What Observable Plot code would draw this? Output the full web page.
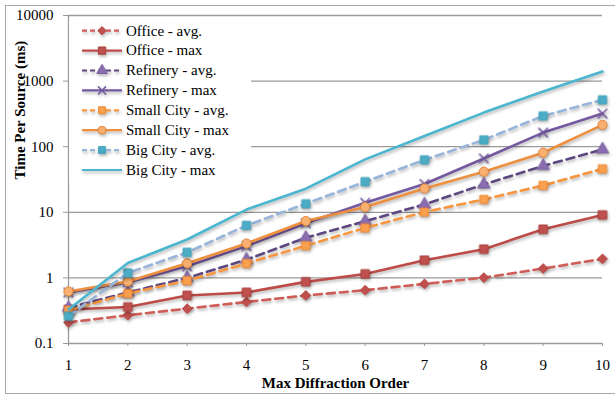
<!DOCTYPE html>
<html>
<head>
<meta charset="utf-8">
<script src="https://cdn.jsdelivr.net/npm/d3@7"></script>
<script src="https://cdn.jsdelivr.net/npm/@observablehq/plot@0.6"></script>
<style>
  body { margin: 0; background: #fff; }
  #wrap { position: relative; width: 615px; height: 397px; overflow: hidden; background: #fff;
          font-family: "Liberation Serif", "Times New Roman", serif; }
  #frame { position: absolute; left: 5px; top: 5px; width: 630px; height: 389px;
           border: 1.5px solid #a8a8a8; box-sizing: border-box; pointer-events: none; }
  #wrap > svg { display: block; }
</style>
</head>
<body>
<div id="wrap"><div id="frame"></div></div>
<script>
// Max diffraction order (x axis)
const orders = [1, 2, 3, 4, 5, 6, 7, 8, 9, 10];
const yTicks = [0.1, 1, 10, 100, 1000, 10000];

// Time per source (ms) for each scene
const officeAvg    = [0.21, 0.27, 0.34, 0.43, 0.54, 0.65, 0.81, 1.01, 1.39, 1.95];
const officeMax    = [0.33, 0.36, 0.54, 0.60, 0.87, 1.15, 1.86, 2.74, 5.5, 9.1];
const refineryAvg  = [0.35, 0.60, 1.0, 1.9, 4.1, 7.3, 13.2, 26.6, 51, 91];
const refineryMax  = [0.60, 0.85, 1.5, 3.05, 6.8, 14, 27, 66, 164, 320];
const smallCityAvg = [0.32, 0.58, 0.91, 1.66, 3.1, 5.8, 10.1, 15.7, 25.7, 46];
const smallCityMax = [0.62, 0.88, 1.67, 3.34, 7.35, 12, 23.1, 41.6, 81, 215];
const bigCityAvg   = [0.26, 1.19, 2.45, 6.3, 13.5, 29.3, 63, 127, 295, 518];
const bigCityMax   = [0.33, 1.69, 3.85, 11, 22.9, 64, 146, 331, 695, 1400];

const seriesNames = ["Office - avg.", "Office - max", "Refinery - avg.", "Refinery - max",
                     "Small City - avg.", "Small City - max", "Big City - avg.", "Big City - max"];
const seriesValues = [officeAvg, officeMax, refineryAvg, refineryMax,
                      smallCityAvg, smallCityMax, bigCityAvg, bigCityMax];

// Line and marker appearance per series
const styles = [
  {line: "#cf5c57", dash: "8,5", symbol: "diamond2", fill: "#c0504d", stroke: "#b84744", r: 4.4},
  {line: "#bd4b48", dash: null,  symbol: "square",   fill: "#c0504d", stroke: "#a8403d", r: 4.8},
  {line: "#5e4780", dash: "8,5", symbol: "triangle", fill: "#8a6db0", stroke: "#7a5fa0", r: 4.6},
  {line: "#7559a0", dash: null,  symbol: "times",    fill: "none",    stroke: "#7559a0", r: 4.4},
  {line: "#f7963f", dash: "8,5", symbol: "square",   fill: "#f9a050", stroke: "#f08a35", r: 4.6},
  {line: "#ee8f3e", dash: null,  symbol: "circle",   fill: "#f8b070", stroke: "#e5843a", r: 4.6},
  {line: "#97b5da", dash: "8,5", symbol: "square",   fill: "#4bacc6", stroke: "#45a2bb", r: 4.6},
  {line: "#4bb6cf", dash: null,  symbol: null,       fill: null,      stroke: null,      r: 0}
];

const rows = seriesNames.flatMap((name, i) =>
  orders.map((order, j) => ({series: name, order, time: seriesValues[i][j]})));

const seriesMarks = seriesNames.flatMap((name, i) => {
  const s = styles[i];
  const data = rows.filter(d => d.series === name);
  const marks = [Plot.line(data, {x: "order", y: "time", stroke: s.line, strokeWidth: 2.6,
                                   strokeDasharray: s.dash ?? undefined, strokeLinejoin: "round"})];
  if (s.symbol) marks.push(Plot.dot(data, {x: "order", y: "time", symbol: s.symbol, r: s.r,
                                            fill: s.fill, stroke: s.stroke, strokeWidth: s.symbol === "times" ? 1.6 : 1}));
  return marks;
});

const fmt = d => String(d);

const chart = Plot.plot({
  width: 615,
  height: 397,
  marginLeft: 68,
  marginRight: 13,
  marginTop: 15,
  marginBottom: 54,
  style: {fontFamily: "'Liberation Serif', 'Times New Roman', serif", fontSize: "15px",
          background: "transparent", color: "#000", overflow: "visible"},
  x: {domain: [1, 10]},
  y: {type: "log", domain: [0.1, 10000]},
  marks: [
    Plot.gridY(yTicks, {stroke: "#9a9a9a", strokeOpacity: 1, strokeWidth: 1.3}),
    Plot.ruleX([1], {stroke: "#9a9a9a", strokeWidth: 1.3}),
    Plot.axisY(yTicks, {tickSize: 5, tickPadding: 10, stroke: "#9a9a9a", fill: "#000",
                        tickFormat: fmt, label: null}),
    Plot.axisX(orders, {tickSize: 3, tickPadding: 13, stroke: "#9a9a9a", fill: "#000",
                        tickFormat: fmt, label: null}),
    ...seriesMarks,
    Plot.text(["Time Per Source (ms)"], {text: d => d, frameAnchor: "left", dx: -48, rotate: -90,
                                          fontWeight: "bold", fontSize: 15}),
    Plot.text(["Max Diffraction Order"], {text: d => d, frameAnchor: "bottom", dy: 44,
                                           fontWeight: "bold", fontSize: 15})
  ]
});

const shadow = "drop-shadow(1.5px 2px 1.5px rgba(0,0,0,0.28))";
d3.select(chart).selectAll('g[aria-label="line"], g[aria-label="dot"]').style("filter", shadow);
document.getElementById("wrap").prepend(chart);

// Legend box over the top-left of the plot area
const legend = d3.select("#wrap").append("svg")
  .attr("width", 182).attr("height", 164)
  .style("position", "absolute").style("left", "69px").style("top", "18px")
  .style("font-family", "'Liberation Serif', 'Times New Roman', serif")
  .style("font-size", "15px");
legend.append("rect").attr("width", 182).attr("height", 164).attr("fill", "#fff");

const symbolTypes = {diamond2: d3.symbolDiamond2, square: d3.symbolSquare, triangle: d3.symbolTriangle,
                     times: d3.symbolTimes, circle: d3.symbolCircle};

seriesNames.forEach((name, i) => {
  const s = styles[i];
  const cy = 12.7 + 19.9 * i;
  const g = legend.append("g");
  const sample = g.append("g").style("filter", shadow);
  sample.append("line").attr("x1", 13).attr("x2", 53).attr("y1", cy).attr("y2", cy)
    .attr("stroke", s.line).attr("stroke-width", 2.2)
    .attr("stroke-dasharray", s.dash ? "5,3" : null);
  if (s.symbol) {
    const rr = s.r * 0.85;
    sample.append("path")
      .attr("d", d3.symbol(symbolTypes[s.symbol], Math.PI * rr * rr)())
      .attr("transform", `translate(33,${cy})`)
      .attr("fill", s.fill).attr("stroke", s.stroke)
      .attr("stroke-width", s.symbol === "times" ? 1.5 : 1);
  }
  g.append("text").attr("x", 57).attr("y", cy).attr("dy", "0.32em").attr("fill", "#000").text(name);
});
</script>
</body>
</html>
